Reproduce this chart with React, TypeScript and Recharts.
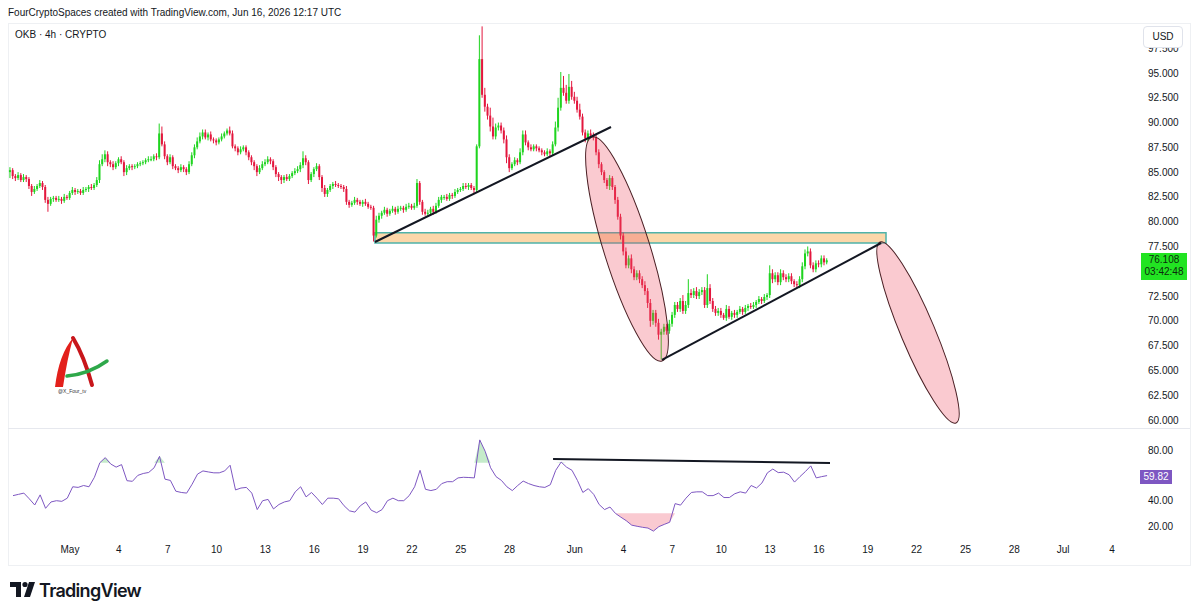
import React from 'react'
import {
  ComposedChart,
  Bar,
  Line,
  Area,
  XAxis,
  YAxis,
  ReferenceLine,
  ReferenceArea,
} from 'recharts'

const FONT = "'Liberation Sans', Arial, sans-serif"
const TEXT = '#131722'
const GREEN = '#1fd41f'
const RED = '#e3173e'

// time axis: days since May 1 00:00 UTC, candles every 4h
const DAY_MIN = -3.808
const DAY_MAX = 65.72
const firstCandleDay = -3 - 2 / 3 // Apr 27 08:00
const candleStep = 1 / 6
const firstOpen = 85.0

const closes = [
  85.2, 84.6, 84.4, 84.7, // Apr 27
  84.2, 84.5, 84.3, 83.6, 83.0, 83.3,
  83.6, 83.9, 83.5, 82.2, 81.8, 82.3,
  82.4, 82.2, 82.3, 82.1, 82.5, 82.4,
  82.9, 83.2, 83.0, 83.1, 82.9, 83.2, // May 1
  83.3, 83.5, 83.4, 83.7, 84.2, 85.8,
  86.3, 86.8, 86.0, 85.8, 85.5, 85.9,
  86.3, 86.0, 85.0, 85.4, 85.6, 85.5,
  85.6, 85.8, 85.9, 86.0, 86.2, 86.3,
  86.3, 86.6, 86.5, 88.9, 87.8, 86.6,
  86.0, 86.5, 85.6, 85.4, 85.2, 85.5,
  85.3, 85.0, 85.8, 86.7, 87.5, 88.1,
  88.6, 89.0, 88.5, 88.8, 88.3, 88.2,
  88.0, 88.3, 88.6, 88.9, 89.2, 88.9, // May 10
  87.6, 87.4, 87.0, 87.3, 87.5, 87.0,
  86.5, 86.0, 85.6, 85.0, 85.4, 85.8,
  86.0, 86.3, 86.1, 85.5, 84.8, 84.5,
  84.2, 84.5, 84.3, 84.6, 84.9, 85.1,
  85.3, 85.7, 86.4, 86.0, 84.2, 84.8,
  85.3, 85.6, 84.5, 83.4, 82.8, 83.2,
  83.6, 83.8, 83.7, 83.6, 83.5, 83.3,
  82.0, 81.7, 81.9, 82.2, 82.0, 81.8,
  82.0, 81.8, 81.5, 81.4, 78.6, 80.2, // May 19
  80.6, 80.9, 81.2, 80.8, 81.1, 81.3,
  81.0, 81.3, 81.4, 81.2, 81.5, 81.6,
  81.4, 81.6, 83.9, 82.0, 81.0, 80.8,
  80.9, 81.3, 81.0, 81.6, 82.2, 82.5,
  82.5, 82.3, 82.7, 82.6, 83.0, 83.2,
  83.3, 83.6, 83.5, 83.7, 83.4, 83.2,
  87.6, 96.4, 92.8, 91.6, 90.7, 89.6, // May 26
  88.6, 89.5, 89.7, 89.2, 88.3, 86.5,
  85.4, 85.8, 86.2, 86.0, 87.0, 88.8,
  88.0, 87.5, 87.3, 87.6, 87.4, 87.2,
  87.0, 86.8, 87.1, 86.9, 87.8, 89.5,
  91.5, 93.5, 93.0, 92.2, 93.6, 92.6,
  92.2, 91.3, 90.6, 89.0, 88.4, 88.9, // Jun 1
  88.7, 88.5, 87.0, 85.8, 85.0, 84.2,
  83.6, 84.4, 83.5, 82.2, 80.5, 78.6,
  77.0, 75.6, 76.3, 75.2, 74.4, 74.8,
  74.2, 73.6, 73.0, 71.8, 70.0, 70.8,
  69.8, 68.6, 68.9, 69.4, 69.0, 69.7,
  70.6, 71.6, 71.2, 72.0, 71.0, 71.6,
  72.8, 72.6, 73.0, 72.5, 72.9, 73.1,
  71.6, 73.3, 72.0, 71.2, 70.8, 71.0,
  70.6, 70.3, 71.2, 70.4, 70.8, 70.6, // Jun 10
  70.9, 71.2, 70.9, 71.3, 71.5, 71.4,
  71.6, 71.9, 72.2, 72.0, 72.4, 72.6,
  74.8, 74.2, 74.6, 73.9, 74.8, 74.4,
  74.2, 74.5, 74.0, 73.7, 73.6, 74.2,
  75.5, 76.8, 77.0, 75.6, 75.2, 75.8,
  75.7, 76.3, 75.9, 76.108, // Jun 16
]

// wick lengths above / below the body, in tenths of a dollar
const upperWicks = [
  3, 2, 2, 3,
  2, 3, 2, 2, 2, 3,
  2, 3, 2, 2, 3, 2,
  2, 2, 3, 2, 3, 2,
  2, 3, 2, 2, 2, 3,
  2, 2, 3, 2, 3, 4,
  5, 4, 3, 2, 3, 2,
  2, 3, 2, 3, 2, 2,
  2, 2, 2, 2, 2, 3,
  3, 2, 3, 10, 7, 3,
  2, 3, 2, 2, 2, 3,
  2, 2, 3, 3, 3, 4,
  4, 3, 3, 2, 3, 2,
  2, 2, 3, 2, 2, 4,
  3, 2, 2, 3, 2, 2,
  2, 2, 2, 2, 3, 3,
  3, 3, 2, 2, 2, 2,
  2, 2, 3, 2, 2, 3,
  3, 3, 7, 3, 2, 2,
  2, 3, 2, 2, 3, 2,
  2, 2, 3, 2, 2, 2,
  3, 2, 2, 3, 2, 2,
  2, 3, 2, 2, 2, 4,
  3, 2, 3, 2, 2, 3,
  2, 3, 2, 2, 3, 3,
  2, 3, 4, 2, 2, 3,
  3, 2, 3, 3, 3, 2,
  2, 3, 2, 2, 3, 2,
  2, 3, 3, 2, 2, 2,
  2, 24, 33, 7, 3, 8,
  9, 4, 3, 3, 3, 4,
  3, 2, 3, 2, 4, 4,
  4, 2, 3, 2, 2, 2,
  2, 2, 3, 2, 3, 6,
  10, 16, 12, 8, 13, 6,
  5, 4, 6, 3, 3, 3,
  4, 3, 3, 3, 2, 2,
  2, 3, 2, 2, 3, 3,
  3, 4, 3, 4, 3, 3,
  3, 3, 4, 3, 4, 3,
  3, 4, 3, 3, 3, 4,
  3, 3, 3, 3, 6, 4,
  14, 4, 3, 4, 3, 3,
  3, 14, 4, 3, 3, 3,
  3, 2, 4, 3, 2, 3,
  2, 3, 2, 3, 2, 3,
  3, 2, 3, 2, 3, 2,
  8, 4, 3, 3, 4, 3,
  3, 3, 3, 2, 3, 3,
  4, 4, 5, 3, 3, 3,
  3, 3, 3, 2,
]

const lowerWicks = [
  6, 3, 3, 2,
  2, 2, 3, 3, 4, 2,
  2, 2, 3, 3, 8, 2,
  3, 2, 2, 3, 2, 2,
  2, 2, 3, 2, 2, 2,
  2, 3, 2, 2, 2, 3,
  2, 3, 4, 3, 3, 2,
  3, 2, 4, 3, 2, 3,
  2, 2, 2, 2, 2, 2,
  2, 2, 3, 2, 2, 3,
  3, 2, 3, 2, 3, 2,
  3, 3, 2, 2, 3, 2,
  2, 3, 2, 3, 2, 3,
  3, 2, 2, 2, 2, 2,
  2, 3, 3, 2, 2, 3,
  3, 3, 4, 4, 2, 2,
  2, 2, 3, 3, 3, 4,
  4, 3, 2, 2, 2, 2,
  2, 3, 3, 3, 4, 2,
  3, 2, 3, 4, 3, 3,
  2, 3, 2, 2, 2, 3,
  3, 3, 2, 2, 3, 2,
  3, 2, 2, 2, 6, 2,
  3, 3, 2, 3, 2, 2,
  3, 2, 2, 3, 2, 2,
  2, 2, 2, 3, 3, 2,
  2, 2, 3, 2, 2, 3,
  3, 2, 2, 3, 2, 2,
  2, 2, 2, 3, 2, 3,
  2, 2, 3, 5, 4, 5,
  3, 3, 3, 3, 4, 6,
  4, 2, 2, 3, 2, 3,
  3, 3, 2, 2, 3, 2,
  3, 2, 2, 3, 2, 2,
  4, 3, 3, 3, 3, 3,
  3, 3, 3, 3, 4, 3,
  3, 3, 3, 4, 3, 3,
  3, 4, 3, 4, 3, 4,
  4, 3, 3, 4, 3, 3,
  4, 3, 4, 5, 6, 4,
  4, 5, 25, 3, 4, 3,
  3, 3, 3, 3, 3, 3,
  3, 3, 3, 3, 3, 3,
  3, 3, 3, 3, 3, 3,
  3, 2, 3, 2, 3, 3,
  3, 2, 3, 2, 3, 2,
  2, 3, 2, 3, 2, 3,
  3, 4, 3, 3, 3, 3,
  3, 3, 3, 3, 2, 3,
  3, 3, 3, 3, 3, 3,
  3, 3, 3, 2,
]

// RSI(14), read every 8 hours starting Apr 27 12:00
const rsiStartDay = -3.5
const rsiStep = 1 / 3
const rsiValues = [
  44, 45, 46, 41.5, 36.6, 44.6, 34, 39, 40, 39.5,
  42, 51, 50.5, 52, 51, 58.5, 70, 74, 69, 66.5,
  68.5, 55.8, 55.3, 60, 61.5, 62.3, 66, 75, 57, 56,
  47.5, 46.5, 46, 53, 61, 63.5, 62.7, 62, 62, 63.5,
  68, 48.5, 50, 50.5, 46, 33, 40, 41, 33.5, 37,
  39, 40, 47, 51, 43, 46.5, 42, 37, 42, 42,
  41.5, 36, 32, 31, 36, 39, 32.5, 30.5, 33, 40,
  42, 40, 40, 44, 51, 64, 49, 48, 49, 53.5,
  55, 55, 58, 58.5, 58.3, 58, 88, 79, 66, 59,
  56, 51, 48, 52, 55.5, 53.5, 52, 51, 50.5, 52.6,
  64, 70.5, 66.5, 64, 56, 46.5, 49.5, 45, 37, 33,
  35, 30, 27, 24.2, 20.7, 19.8, 19, 18.4, 16, 19.5,
  21.3, 23, 37.7, 36.5, 42, 46.5, 47, 47, 44, 44,
  46, 42.5, 42.5, 45.5, 47, 46, 52, 50, 54, 62,
  65, 62.2, 62.5, 60.5, 54.7, 59, 63, 67.5, 58, 59,
  59.82,
]

// 75.000 sits under the last-price label, so it is not listed
const priceTicks = [60, 62.5, 65, 67.5, 70, 72.5, 77.5, 80, 82.5, 85, 87.5, 90, 92.5, 95, 97.5]
const rsiTicks = [20, 40, 80]
const dateTicks = [0, 3, 6, 9, 12, 15, 18, 21, 24, 27, 31, 34, 37, 40, 43, 46, 49, 52, 55, 58, 61, 64]

const PRICE_MIN = 59.19
const PRICE_MAX = 99.84
const RSI_MIN = 8.97
const RSI_MAX = 97.4

const lastPrice = '76.108'
const countdown = '03:42:48'
const lastRsi = '59.82'

// drawings, [day, price]
const upperTrend = [{ x: 18.73, y: 77.95 }, { x: 33.23, y: 89.55 }]
const lowerTrend = [{ x: 36.36, y: 66.05 }, { x: 49.82, y: 77.85 }]
const zone = { x1: 18.73, x2: 50.12, y1: 77.85, y2: 78.89 }
const dropEllipse = [{ x: 32.06, y: 88.55 }, { x: 36.36, y: 65.95 }]
const nextEllipse = [{ x: 49.75, y: 77.95 }, { x: 54.42, y: 59.7 }]
const rsiTrend = [{ x: 29.67, y: 72.9 }, { x: 46.68, y: 69.7 }]

const candles = closes.map((c, i) => {
  const o = i === 0 ? firstOpen : closes[i - 1]
  const high = Math.max(o, c) + upperWicks[i] / 10
  const low = Math.min(o, c) - lowerWicks[i] / 10
  return { t: firstCandleDay + i * candleStep, o, c, high, low, range: [low, high] }
})

const rsiData = rsiValues.map((v, i) => ({
  t: rsiStartDay + i * rsiStep,
  rsi: v,
  ob: [70, Math.max(70, v)],
  os: [Math.min(30, v), 30],
}))

const dayLabel = (d: number) => {
  if (d === 0) return 'May'
  if (d === 31) return 'Jun'
  if (d === 61) return 'Jul'
  return String(d < 31 ? d + 1 : d < 61 ? d - 30 : d - 60)
}

function Candle(props: any) {
  const { x, y, width, height, payload } = props
  if (!payload || height == null) return null
  const { o, c, high, low } = payload
  const toY = (p: number) => y + ((high - p) / (high - low)) * height
  const cx = x + width / 2
  const color = c >= o ? GREEN : RED
  const top = toY(Math.max(o, c))
  const bot = toY(Math.min(o, c))
  return (
    <g>
      <line x1={cx} x2={cx} y1={y} y2={y + height} stroke={color} strokeWidth={1} />
      <rect x={cx - 1} y={top} width={2} height={Math.max(1, bot - top)} fill={color} />
    </g>
  )
}

const ellipseShape = (ry: number) => (props: any) => {
  const { x1, y1, x2, y2 } = props
  if (x1 == null) return null
  const cx = (x1 + x2) / 2
  const cy = (y1 + y2) / 2
  const rx = Math.hypot(x2 - x1, y2 - y1) / 2
  const ang = (Math.atan2(y2 - y1, x2 - x1) * 180) / Math.PI
  return (
    <ellipse
      cx={cx}
      cy={cy}
      rx={rx}
      ry={ry}
      transform={`rotate(${ang} ${cx} ${cy})`}
      fill="rgba(240, 80, 100, 0.3)"
      stroke="#4a1f24"
      strokeWidth={1}
    />
  )
}

const axisTick = { fontSize: 10, fill: TEXT, fontFamily: FONT }

function PriceChart() {
  return (
    <ComposedChart width={1182} height={403} data={candles} margin={{ top: 0, right: 0, bottom: 0, left: 0 }}>
      <XAxis dataKey="t" type="number" domain={[DAY_MIN, DAY_MAX]} allowDataOverflow hide />
      <YAxis
        orientation="right"
        width={50}
        domain={[PRICE_MIN, PRICE_MAX]}
        allowDataOverflow
        ticks={priceTicks}
        interval={0}
        tickFormatter={(v: number) => v.toFixed(3)}
        axisLine={false}
        tickLine={false}
        tick={axisTick}
      />
      <Bar dataKey="range" barSize={2} shape={Candle} isAnimationActive={false} />
      <ReferenceArea
        x1={zone.x1}
        x2={zone.x2}
        y1={zone.y1}
        y2={zone.y2}
        fill="rgba(245, 150, 30, 0.38)"
        fillOpacity={1}
        stroke="#4fb3a9"
        strokeWidth={1.5}
      />
      <ReferenceLine segment={dropEllipse} shape={ellipseShape(23)} />
      <ReferenceLine segment={nextEllipse} shape={ellipseShape(17)} />
      <ReferenceLine segment={upperTrend} stroke="#131722" strokeWidth={2} />
      <ReferenceLine segment={lowerTrend} stroke="#131722" strokeWidth={2} />
    </ComposedChart>
  )
}

function RsiChart() {
  return (
    <ComposedChart width={1182} height={136} data={rsiData} margin={{ top: 0, right: 0, bottom: 0, left: 0 }}>
      <XAxis
        dataKey="t"
        type="number"
        domain={[DAY_MIN, DAY_MAX]}
        allowDataOverflow
        ticks={dateTicks}
        interval={0}
        tickFormatter={dayLabel}
        axisLine={false}
        tickLine={false}
        tickMargin={0}
        height={24}
        tick={axisTick}
      />
      <YAxis
        orientation="right"
        width={50}
        domain={[RSI_MIN, RSI_MAX]}
        allowDataOverflow
        ticks={rsiTicks}
        interval={0}
        tickFormatter={(v: number) => v.toFixed(2)}
        axisLine={false}
        tickLine={false}
        tick={axisTick}
      />
      <Area dataKey="ob" stroke="none" fill="#7fd38a" fillOpacity={0.45} isAnimationActive={false} />
      <Area dataKey="os" stroke="none" fill="#f48a9a" fillOpacity={0.45} isAnimationActive={false} />
      <Line dataKey="rsi" stroke="#7e57c2" strokeWidth={1} dot={false} isAnimationActive={false} />
      <ReferenceLine segment={rsiTrend} stroke="#131722" strokeWidth={2} />
    </ComposedChart>
  )
}

function AuthorLogo() {
  return (
    <svg width={70} height={70} style={{ position: 'absolute', left: 45, top: 330 }}>
      <path d="M10 57 Q14 24 28 8 Q22 30 18 57 Z" fill="#e3201b" />
      <path d="M28 8 Q39 26 47 55" stroke="#c8161b" strokeWidth={4} fill="none" strokeLinecap="round" />
      <path d="M22 46 Q44 44 62 31" stroke="#2ea84a" strokeWidth={3.5} fill="none" strokeLinecap="round" />
      <text x={13} y={63} fontSize={5} fill="#333" fontFamily={FONT}>@X_Four_tv</text>
    </svg>
  )
}

function TvLogo() {
  return (
    <svg width={150} height={26} style={{ position: 'absolute', left: 10, top: 578 }}>
      <path d="M0 4 H11 V19 H6 V9 H0 Z" fill="#131722" />
      <circle cx={15} cy={6.5} r={2.6} fill="#131722" />
      <path d="M19 4 H25 L20 19 H14 Z" fill="#131722" />
      <text x={29} y={19} fontSize={18} fontWeight={600} fill="#131722" fontFamily="Inter, 'Noto Sans', sans-serif" letterSpacing={-0.7}>
        TradingView
      </text>
    </svg>
  )
}

export default function App() {
  return (
    <div
      style={{
        position: 'absolute',
        left: 0,
        top: 0,
        width: 1200,
        height: 615,
        background: '#fff',
        fontFamily: FONT,
        color: TEXT,
        overflow: 'hidden',
      }}
    >
      <div style={{ position: 'absolute', left: 8, top: 7, fontSize: 10, whiteSpace: 'nowrap' }}>
        FourCryptoSpaces created with TradingView.com, Jun 16, 2026 12:17 UTC
      </div>
      <div style={{ position: 'absolute', left: 8, top: 23, width: 1181, height: 541, border: '1px solid #eef0f3' }} />
      <div style={{ position: 'absolute', left: 8, top: 25 }}>
        <PriceChart />
      </div>
      <div style={{ position: 'absolute', left: 8, top: 428, width: 1182, height: 1, background: '#e6e8ee' }} />
      <div style={{ position: 'absolute', left: 8, top: 428 }}>
        <RsiChart />
      </div>
      <div style={{ position: 'absolute', left: 15, top: 29, fontSize: 10, whiteSpace: 'nowrap' }}>OKB · 4h · CRYPTO</div>
      <div
        style={{
          position: 'absolute',
          left: 1143,
          top: 26,
          width: 38,
          height: 20,
          border: '1px solid #e0e3eb',
          borderRadius: 4,
          background: '#fff',
          fontSize: 10,
          lineHeight: '20px',
          textAlign: 'center',
        }}
      >
        USD
      </div>
      <div
        style={{
          position: 'absolute',
          left: 1141,
          top: 253,
          width: 46,
          height: 26,
          background: '#22e422',
          fontSize: 10,
          lineHeight: '12px',
          paddingTop: 1,
          textAlign: 'center',
          color: '#0d2a0d',
        }}
      >
        <div>{lastPrice}</div>
        <div>{countdown}</div>
      </div>
      <div
        style={{
          position: 'absolute',
          left: 1140,
          top: 470,
          width: 32,
          height: 14,
          background: '#7e57c2',
          color: '#fff',
          fontSize: 10,
          lineHeight: '14px',
          textAlign: 'center',
        }}
      >
        {lastRsi}
      </div>
      <AuthorLogo />
      <TvLogo />
    </div>
  )
}
